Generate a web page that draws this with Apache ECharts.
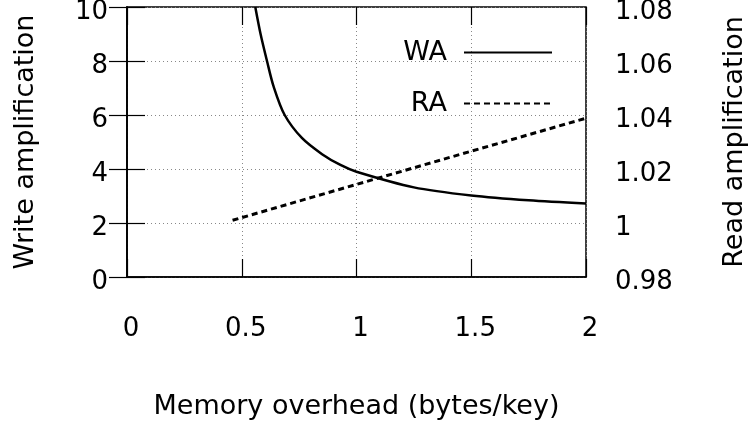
<!DOCTYPE html>
<html>
<head>
<meta charset="utf-8">
<script src="https://cdn.jsdelivr.net/npm/echarts@6/dist/echarts.min.js"></script>
<style>
  html, body { margin: 0; padding: 0; background: #fff; }
  #chart { width: 748px; height: 425px; }
</style>
</head>
<body>
<div id="chart"></div>
<script>
// memory overhead (bytes/key) on x
var waX = [0.559, 0.582, 0.61, 0.639, 0.687, 0.762, 0.85, 0.93, 1.0, 1.25, 1.5, 1.75, 2.0]
var waY = [10, 9, 8, 7.05, 6, 5.15, 4.55, 4.15, 3.9, 3.32, 3.02, 2.84, 2.72]
var raX = [0.46, 1.0, 1.5, 2.0]
var raY = [1.001, 1.0143, 1.0266, 1.0388]

var FONT = 'DejaVu Sans'

function pairs(xs, ys) {
  return xs.map(function(x, i) { return [x, ys[i]] })
}

var chart = echarts.init(document.getElementById('chart'))

var tick = { show: true, inside: true, length: 18, lineStyle: { color: '#000', width: 1.2 }}
var grid = { show: true, lineStyle: { color: '#888', width: 1, type: [1, 3] }}

chart.setOption({
  animation: false,
  textStyle: { fontFamily: FONT },
  grid: {
    left: 127,
    right: 162,
    top: 7,
    bottom: 148,
    outerBoundsMode: 'none',
    containLabel: false,
    show: true,
    borderColor: '#000',
    borderWidth: 1.5
  },
  legend: {
    orient: 'vertical',
    right: 195,
    top: 39,
    padding: 0,
    align: 'right',
    itemWidth: 88,
    itemHeight: 24,
    itemGap: 24,
    itemStyle: { color: 'transparent', borderWidth: 0, opacity: 0 },
    textStyle: { fontSize: 27, color: '#000', fontFamily: FONT, padding: [0, 12, 0, 0] },
    data: ['WA', 'RA']
  },
  xAxis: [
    {
      type: 'value',
      min: 0,
      max: 2,
      interval: 0.5,
      name: 'Memory overhead (bytes/key)',
      nameLocation: 'middle',
      nameGap: 116,
      nameTextStyle: { fontSize: 27, color: '#000', fontFamily: FONT },
      axisLine: { show: true, lineStyle: { color: '#000', width: 1.5 }},
      axisTick: tick,
      axisLabel: { fontSize: 26, color: '#000', margin: 39, padding: [0, 0, 0, 8] },
      splitLine: grid
    },
    {
      type: 'value',
      position: 'top',
      min: 0,
      max: 2,
      interval: 0.5,
      axisLine: { show: false },
      axisTick: tick,
      axisLabel: { show: false },
      splitLine: { show: false }
    }
  ],
  yAxis: [
    {
      type: 'value',
      min: 0,
      max: 10,
      interval: 2,
      name: 'Write amplification',
      nameLocation: 'middle',
      nameGap: 88,
      nameTextStyle: { fontSize: 27, color: '#000', fontFamily: FONT },
      axisLine: { show: true, lineStyle: { color: '#000', width: 1.5 }},
      axisTick: tick,
      axisLabel: { fontSize: 26, color: '#000', margin: 19, verticalAlign: 'top', lineHeight: 10 },
      splitLine: grid
    },
    {
      type: 'value',
      position: 'right',
      min: 0.98,
      max: 1.08,
      interval: 0.02,
      name: 'Read amplification',
      nameLocation: 'middle',
      nameGap: 135,
      nameRotate: 90,
      nameTextStyle: { fontSize: 27, color: '#000', fontFamily: FONT },
      axisLine: { show: true, lineStyle: { color: '#000', width: 1.5 }},
      axisTick: tick,
      axisLabel: {
        fontSize: 26,
        color: '#000',
        margin: 29,
        verticalAlign: 'top',
        lineHeight: 10,
        formatter: function(v) { return String(parseFloat(v.toFixed(2))) }
      },
      splitLine: { show: false }
    }
  ],
  series: [
    {
      name: 'WA',
      type: 'line',
      xAxisIndex: 0,
      yAxisIndex: 0,
      symbol: 'none',
      smooth: 0.3,
      lineStyle: { color: '#000', width: 2.5 },
      itemStyle: { color: '#000' },
      data: pairs(waX, waY)
    },
    {
      name: 'RA',
      type: 'line',
      xAxisIndex: 0,
      yAxisIndex: 1,
      symbol: 'none',
      lineStyle: { color: '#000', width: 3, type: [6, 4] },
      itemStyle: { color: '#000' },
      data: pairs(raX, raY)
    }
  ]
})
</script>
</body>
</html>
